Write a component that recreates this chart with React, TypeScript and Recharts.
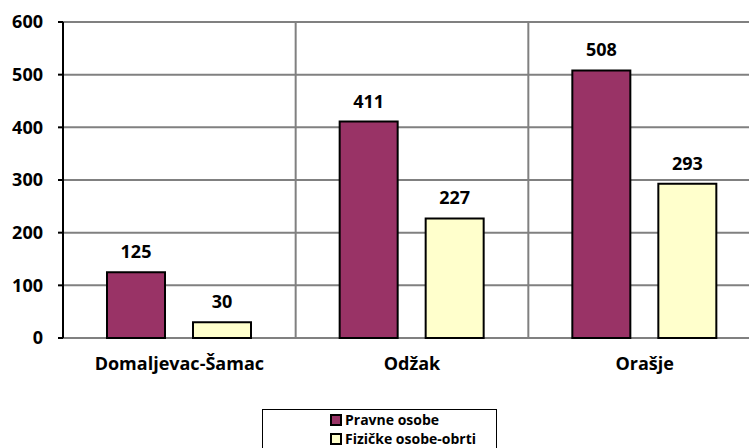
import React from 'react'
import { BarChart, Bar, XAxis, YAxis, CartesianGrid, LabelList, Legend } from 'recharts'

const categories = ['Domaljevac-Šamac', 'Odžak', 'Orašje']
const pravneOsobe = [125, 411, 508]
const fizickeOsobe = [30, 227, 293]
const seriesNames = ['Pravne osobe', 'Fizičke osobe-obrti']
const yTicks = [0, 100, 200, 300, 400, 500, 600]
const boundaryTicks = [0, 1, 2, 3]

const data = categories.map((name, i) => ({
  name,
  idx: i + 0.5,
  pravne: pravneOsobe[i],
  fizicke: fizickeOsobe[i],
}))

const FONT = '"Open Sans", Lato, sans-serif'

function CategoryTick({ x, y, payload }: any) {
  return (
    <text x={x} y={y + 24} textAnchor="middle" fontFamily={FONT} fontWeight={700} fontSize={18} fill="#000">
      {payload.value}
    </text>
  )
}

function LegendBox({ payload }: any) {
  const items = [...(payload || [])].sort(
    (a: any, b: any) => seriesNames.indexOf(a.value) - seriesNames.indexOf(b.value)
  )
  return (
    <div
      style={{
        width: 235,
        height: 60,
        border: '1px solid #000',
        boxSizing: 'border-box',
        background: '#fff',
        paddingLeft: 67,
        paddingTop: 0,
        fontFamily: FONT,
        fontWeight: 700,
        fontSize: 14,
        lineHeight: '19px',
        color: '#000',
      }}
    >
      {items.map((entry: any) => (
        <div key={entry.value} style={{ display: 'flex', alignItems: 'center', height: 19 }}>
          <span
            style={{
              display: 'inline-block',
              width: 12,
              height: 12,
              background: entry.color,
              border: '2px solid #000',
              boxSizing: 'border-box',
              marginRight: 3,
            }}
          />
          <span style={{ fontWeight: 700, fontFamily: FONT }}>{entry.value}</span>
        </div>
      ))}
    </div>
  )
}

export default function App() {
  return (
    <div style={{ position: 'absolute', left: 0, top: 0, width: 749, height: 448, overflow: 'hidden', background: '#fff' }}>
      <BarChart
        width={780}
        height={448}
        data={data}
        margin={{ top: 22, right: 19, left: 0, bottom: 70 }}
        barSize={58}
        barGap={28}
      >
        <CartesianGrid
          stroke="#808080"
          strokeWidth={2}
          verticalCoordinatesGenerator={({ offset }: any) =>
            boundaryTicks.map((t) => offset.left + (t * offset.width) / categories.length)
          }
        />
        <XAxis dataKey="name" xAxisId="cat" tickLine={false} axisLine={false} tick={<CategoryTick />} height={40} interval={0} />
        <XAxis
          xAxisId="num"
          type="number"
          dataKey="idx"
          domain={[0, 3]}
          ticks={boundaryTicks}
          tick={() => <g />}
          tickSize={7}
          tickLine={{ stroke: '#000', strokeWidth: 1 }}
          axisLine={{ stroke: '#000', strokeWidth: 2 }}
          height={0}
          interval={0}
        />
        <YAxis
          domain={[0, 600]}
          ticks={yTicks}
          width={63}
          tickSize={5}
          tickMargin={15}
          tickLine={{ stroke: '#000', strokeWidth: 2 }}
          axisLine={{ stroke: '#000', strokeWidth: 2 }}
          tick={{ fill: '#000', fontFamily: FONT, fontWeight: 700, fontSize: 18 }}
          interval={0}
        />
        <Legend
          layout="horizontal"
          verticalAlign="middle"
          content={<LegendBox />}
          wrapperStyle={{ left: 262, top: 409, width: 235 }}
        />
        <Bar dataKey="pravne" name={seriesNames[0]} xAxisId="cat" fill="#993366" stroke="#000" strokeWidth={2} isAnimationActive={false}>
          <LabelList dataKey="pravne" position="top" offset={14} fill="#000" fontFamily={FONT} fontWeight={700} fontSize={18} />
        </Bar>
        <Bar dataKey="fizicke" name={seriesNames[1]} xAxisId="cat" fill="#FFFFCC" stroke="#000" strokeWidth={2} isAnimationActive={false}>
          <LabelList dataKey="fizicke" position="top" offset={14} fill="#000" fontFamily={FONT} fontWeight={700} fontSize={18} />
        </Bar>
      </BarChart>
    </div>
  )
}
